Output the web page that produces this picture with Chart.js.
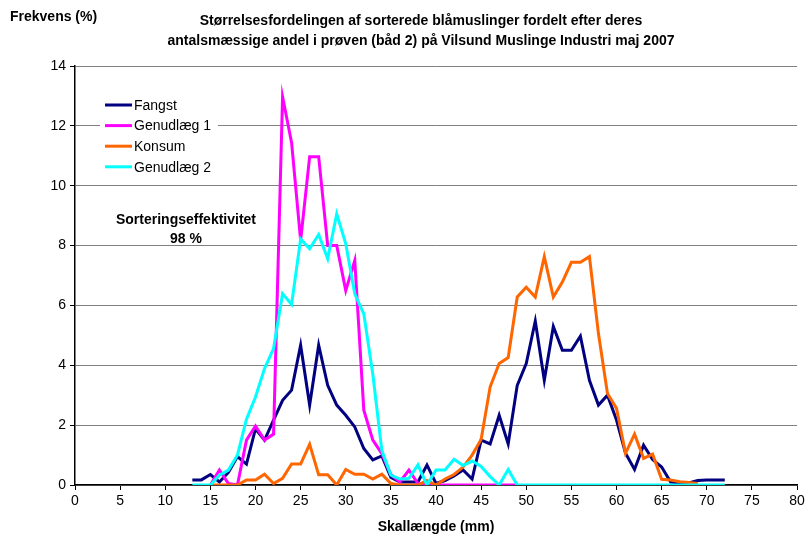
<!DOCTYPE html>
<html>
<head>
<meta charset="utf-8">
<script src="https://cdn.jsdelivr.net/npm/chart.js@4/dist/chart.umd.min.js"></script>
<style>
  html, body { margin: 0; padding: 0; background: #fff; }
  #wrap { width: 809px; height: 539px; position: relative; }
</style>
</head>
<body>
<div id="wrap"><canvas id="chart" width="809" height="539"></canvas></div>
<script>
// Skallængde (mm), 13..72
const lengthsMm = [13, 14, 15, 16, 17, 18, 19, 20, 21, 22,
                   23, 24, 25, 26, 27, 28, 29, 30, 31, 32,
                   33, 34, 35, 36, 37, 38, 39, 40, 41, 42,
                   43, 44, 45, 46, 47, 48, 49, 50, 51, 52,
                   53, 54, 55, 56, 57, 58, 59, 60, 61, 62,
                   63, 64, 65, 66, 67, 68, 69, 70, 71, 72];

const fangst = [0.17, 0.17, 0.35, 0.1, 0.42, 0.95, 0.7, 1.88, 1.5, 2.17,
                2.83, 3.17, 4.67, 2.67, 4.67, 3.33, 2.67, 2.33, 1.94, 1.22,
                0.84, 0.97, 0.25, 0.1, 0.1, 0.1, 0.67, 0.05, 0.15, 0.3,
                0.5, 0.2, 1.5, 1.37, 2.33, 1.37, 3.33, 4.06, 5.48, 3.5,
                5.3, 4.5, 4.5, 4.97, 3.5, 2.67, 3.0, 2.17, 1.06, 0.52,
                1.33, 0.85, 0.6, 0.1, 0.07, 0.07, 0.15, 0.17, 0.17, 0.17];

const genudlaeg1 = [null, null, 0, 0.5, 0.05, 0, 1.5, 1.97, 1.5, 1.7,
                    12.97, 11.44, 8.17, 10.97, 10.97, 8.0, 8.0, 6.5, 7.5, 2.5,
                    1.5, 1.05, 0.35, 0.1, 0.5, 0.05, 0, 0, 0, 0,
                    0, 0, 0, 0, 0, 0, 0, null, null, null,
                    null, null, null, null, null, null, null, null, null, null,
                    null, null, null, null, null, null, null, null, null, null];

const konsum = [null, null, 0, 0, 0, 0, 0.17, 0.17, 0.36, 0.05,
                0.22, 0.7, 0.7, 1.36, 0.34, 0.34, 0, 0.52, 0.36, 0.36,
                0.2, 0.36, 0.05, 0, 0, 0, 0.15, 0, 0.2, 0.35,
                0.6, 1.0, 1.52, 3.28, 4.06, 4.26, 6.28, 6.61, 6.28, 7.63,
                6.28, 6.78, 7.44, 7.44, 7.63, 5.06, 3.06, 2.56, 1.06, 1.7,
                0.89, 1.03, 0.19, 0.17, 0.11, 0.08, 0.05, null, null, null];

const genudlaeg2 = [0, 0, 0, 0.33, 0.5, 1.0, 2.2, 2.94, 3.89, 4.56,
                    6.39, 6.03, 8.22, 7.89, 8.37, 7.56, 9.06, 8.06, 6.39, 5.72,
                    3.7, 1.15, 0.33, 0.2, 0.22, 0.67, 0, 0.5, 0.5, 0.86,
                    0.65, 0.8, 0.62, 0.28, 0, 0.52, 0, 0, 0, 0,
                    0, 0, 0, 0, 0, 0, 0, 0, 0, 0,
                    0, 0, 0, 0, 0, 0, 0, 0, 0, 0];

const seriesNames = ['Fangst', 'Genudlæg 1', 'Konsum', 'Genudlæg 2'];
const seriesColors = ['#000080', '#FF00FF', '#FF6600', '#00FFFF'];

const xTicks = [0, 5, 10, 15, 20, 25, 30, 35, 40, 45, 50, 55, 60, 65, 70, 75, 80];
const yTicks = [0, 2, 4, 6, 8, 10, 12, 14];

const titleLines = ['Størrelsesfordelingen af sorterede blåmuslinger fordelt efter deres',
                    'antalsmæssige andel i prøven (båd 2) på Vilsund Muslinge Industri maj 2007'];
const yTitle = 'Frekvens (%)';
const xTitle = 'Skallængde (mm)';
const noteLines = ['Sorteringseffektivitet', '98 %'];

const FONT = "'Liberation Sans', Arial, sans-serif";

function toPoints(values) {
    const pts = [];
    values.forEach((v, i) => {
        if (v !== null) pts.push({ x: lengthsMm[i], y: v });
    });
    return pts;
}

const allSeries = [fangst, genudlaeg1, konsum, genudlaeg2];

// texts, legend and note drawn on top of the chart
const textPlugin = {
    id: 'texts',
    afterDraw(chart) {
        const ctx = chart.ctx;
        ctx.save();
        ctx.fillStyle = '#000';
        ctx.textBaseline = 'middle';

        ctx.font = 'bold 14px ' + FONT;
        ctx.textAlign = 'left';
        ctx.fillText(yTitle, 10, 17);

        ctx.textAlign = 'center';
        ctx.fillText(titleLines[0], 421, 21);
        ctx.fillText(titleLines[1], 421, 41);

        ctx.fillText(xTitle, 436, 527);

        ctx.fillText(noteLines[0], 186, 220);
        ctx.fillText(noteLines[1], 186, 239);

        // legend
        ctx.fillStyle = '#fff';
        ctx.fillRect(100, 94, 118, 84);
        ctx.font = '14px ' + FONT;
        ctx.textAlign = 'left';
        seriesNames.forEach((name, i) => {
            const y = 105 + i * 20.6;
            ctx.strokeStyle = seriesColors[i];
            ctx.lineWidth = 3;
            ctx.beginPath();
            ctx.moveTo(105, y);
            ctx.lineTo(132, y);
            ctx.stroke();
            ctx.fillStyle = '#000';
            ctx.fillText(name, 134, y + 1);
        });
        ctx.restore();
    }
};

new Chart(document.getElementById('chart'), {
    type: 'line',
    data: {
        datasets: allSeries.map((vals, i) => ({
            label: seriesNames[i],
            data: toPoints(vals),
            borderColor: seriesColors[i],
            backgroundColor: seriesColors[i],
            borderWidth: 3,
            pointRadius: 0,
            tension: 0,
            fill: false,
            order: 4 - i
        }))
    },
    options: {
        responsive: false,
        animation: false,
        devicePixelRatio: 1,
        layout: { padding: { top: 66, right: 12, left: 0, bottom: 0 } },
        plugins: {
            legend: { display: false },
            title: { display: false },
            tooltip: { enabled: false }
        },
        scales: {
            x: {
                type: 'linear',
                min: 0,
                max: 80,
                afterBuildTicks: (s) => { s.ticks = xTicks.map(v => ({ value: v })); },
                afterFit: (s) => { s.height = 54; },
                ticks: {
                    color: '#000',
                    font: { size: 14, family: FONT },
                    padding: 3,
                    maxRotation: 0
                },
                grid: {
                    drawOnChartArea: false,
                    drawTicks: true,
                    tickLength: 5,
                    color: '#000'
                },
                border: { color: '#000', width: 1.5 }
            },
            y: {
                min: 0,
                max: 14,
                afterBuildTicks: (s) => { s.ticks = yTicks.map(v => ({ value: v })); },
                afterFit: (s) => { s.width = 75; },
                ticks: {
                    color: '#000',
                    font: { size: 14, family: FONT },
                    padding: 4
                },
                grid: {
                    color: '#808080',
                    lineWidth: 1,
                    tickLength: 5,
                    tickColor: '#000'
                },
                border: { color: '#000', width: 1.5 }
            }
        }
    },
    plugins: [textPlugin]
});
</script>
</body>
</html>
